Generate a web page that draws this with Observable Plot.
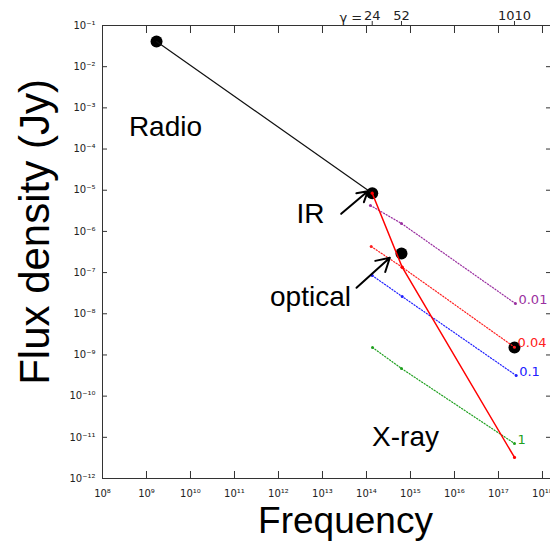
<!DOCTYPE html>
<html><head><meta charset="utf-8">
<script src="https://cdn.jsdelivr.net/npm/d3@7"></script>
<script src="https://cdn.jsdelivr.net/npm/@observablehq/plot@0.6"></script>
<style>body{margin:0;background:#fff} #chart svg{display:block}</style>
</head><body><div id="chart"></div>
<script>
// Observed points (frequency Hz, flux density Jy)
const sourceNames = ["Radio", "IR", "Optical", "X-ray"];
const sourceNu = [1.69e9, 1.35e14, 6.24e14, 2.31e17];
const sourceFlux = [4.08e-2, 8.47e-6, 2.9e-7, 1.52e-9];

// Radio-to-IR power law
const radioLineNu = [1.69e9, 1.35e14];
const radioLineFlux = [4.08e-2, 8.47e-6];

// Red solid synchrotron line
const synchNu = [1.35e14, 6.47e14, 2.31e17];
const synchFlux = [8.47e-6, 1.35e-7, 3.24e-12];

// Model (dotted) curves
const modelLabels = ["0.01", "0.04", "0.1", "1"];
const modelColors = ["#9a30a0", "#ff2020", "#2020ff", "#20a020"];
const modelNu = [
  [1.23e14, 6.24e14, 2.43e17],
  [1.28e14, 6.47e14, 2.31e17],
  [1.35e14, 6.47e14, 2.52e17],
  [1.37e14, 6.24e14, 2.31e17]
];
const modelFlux = [
  [4.26e-6, 1.56e-6, 1.77e-8],
  [4.30e-7, 1.35e-7, 1.54e-9],
  [8.49e-8, 2.62e-8, 3.17e-10],
  [1.52e-9, 4.69e-10, 7.08e-12]
];

// Top gamma axis
const gammaNu = [1.35e14, 6.24e14, 2.31e17];
const gammaLabels = ["24", "52", "1010"];

// Tick values
const xTickValues = [1e8, 1e9, 1e10, 1e11, 1e12, 1e13, 1e14, 1e15, 1e16, 1e17, 1e18];
const yTickValues = [1e-12, 1e-11, 1e-10, 1e-9, 1e-8, 1e-7, 1e-6, 1e-5, 1e-4, 1e-3, 1e-2, 1e-1];

// Annotations
const labelText = ["Radio", "IR", "optical", "X-ray"];
const labelNu = [2.7e9, 5.34e12, 5.34e12, 7.7e14];
const labelFlux = [3.52e-4, 2.57e-6, 2.62e-8, 9.9e-12];
const arrowNu1 = [2.66e13, 5.93e13];
const arrowFlux1 = [2.67e-6, 4.27e-8];
const arrowNu2 = [1.07e14, 3.39e14];
const arrowFlux2 = [9.46e-6, 2.29e-7];

const sup = {"-":"⁻","0":"⁰","1":"¹","2":"²","3":"³","4":"⁴","5":"⁵","6":"⁶","7":"⁷","8":"⁸","9":"⁹"};
const fmt = d => "10" + String(Math.round(Math.log10(d))).split("").map(c => sup[c]).join("");

const sources = sourceNames.map((n, i) => ({name: n, nu: sourceNu[i], flux: sourceFlux[i]}));
const radioLine = radioLineNu.map((v, i) => ({nu: v, flux: radioLineFlux[i]}));
const synch = synchNu.map((v, i) => ({nu: v, flux: synchFlux[i]}));
const models = modelLabels.map((l, k) => ({
  label: l, color: modelColors[k],
  pts: modelNu[k].map((v, i) => ({nu: v, flux: modelFlux[k][i]}))
}));
const modelEnds = models.map(m => ({...m.pts[m.pts.length - 1], label: m.label, color: m.color}));
const labels = labelText.map((t, i) => ({text: t, nu: labelNu[i], flux: labelFlux[i]}));
const arrows = arrowNu1.map((v, i) => ({x1: v, y1: arrowFlux1[i], x2: arrowNu2[i], y2: arrowFlux2[i]}));

const marks = [
  Plot.frame({stroke: "#333", strokeWidth: 1}),
  Plot.axisX({ticks: xTickValues, tickSize: -7, fill: "none", stroke: "#333"}),
  Plot.axisX({ticks: xTickValues, tickSize: 0, tickPadding: 11, tickFormat: fmt, fontSize: 10, fill: "#222"}),
  Plot.axisX({anchor: "top", ticks: xTickValues, tickSize: -7, fill: "none", stroke: "#333"}),
  Plot.axisX({anchor: "top", ticks: gammaNu, tickSize: 5, tickPadding: 1, stroke: "#333",
    tickFormat: d => gammaLabels[gammaNu.indexOf(d)], fontSize: 13, fill: "#222"}),
  Plot.text(["γ ="], {x: () => gammaNu[0], frameAnchor: "top", dy: -13, dx: -10, textAnchor: "end", fontSize: 13, fill: "#222"}),
  Plot.axisY({ticks: yTickValues, tickSize: -5, fill: "none", stroke: "#333"}),
  Plot.axisY({anchor: "right", ticks: yTickValues, tickSize: -5, fill: "none", stroke: "#333"}),
  Plot.axisY({ticks: yTickValues, tickSize: 0, tickPadding: 7, tickFormat: fmt, fontSize: 10, fill: "#222"}),
  Plot.text(["Flux density (Jy)"], {frameAnchor: "left", textAnchor: "middle", dx: -67, dy: -20, rotate: -90, fontSize: 42, fontFamily: "Liberation Sans", fill: "black"}),
  Plot.text(["Frequency"], {frameAnchor: "bottom", textAnchor: "middle", dy: 54, dx: 19, fontSize: 37, fontFamily: "Liberation Sans", fill: "black"}),
  Plot.dot(sources, {x: "nu", y: "flux", r: 6, fill: "black"}),
  Plot.line(radioLine, {x: "nu", y: "flux", stroke: "#111", strokeWidth: 1.2}),
];
for (const m of models) {
  marks.push(Plot.line(m.pts, {x: "nu", y: "flux", stroke: m.color, strokeWidth: 1.2, strokeDasharray: "1.2,1.8"}));
  marks.push(Plot.dot(m.pts, {x: "nu", y: "flux", r: 1.5, fill: m.color}));
}
marks.push(
  Plot.line(synch, {x: "nu", y: "flux", stroke: "#ff0000", strokeWidth: 1.5}),
  Plot.dot(synch, {x: "nu", y: "flux", r: 1.6, fill: "#ff0000"}),
  Plot.text(modelEnds, {x: "nu", y: "flux", text: "label", fill: d => d.color, textAnchor: "start", dx: 3, dy: -4, fontSize: 13}),
  Plot.text(labels, {x: "nu", y: "flux", text: "text", fontSize: 28, fontFamily: "Liberation Sans", fill: "black"}),
  Plot.arrow(arrows, {x1: "x1", y1: "y1", x2: "x2", y2: "y2", stroke: "black", strokeWidth: 2, headLength: 14})
);

const chart = Plot.plot({
  width: 550, height: 553,
  marginLeft: 102, marginRight: 0, marginTop: 25, marginBottom: 75,
  style: {fontFamily: "DejaVu Sans", background: "white", overflow: "visible"},
  x: {type: "log", domain: [1e8, 1.52e18]},
  y: {type: "log", domain: [1e-12, 1e-1]},
  color: {type: "identity"},
  marks
});
document.getElementById("chart").appendChild(chart);
</script>
</body></html>
